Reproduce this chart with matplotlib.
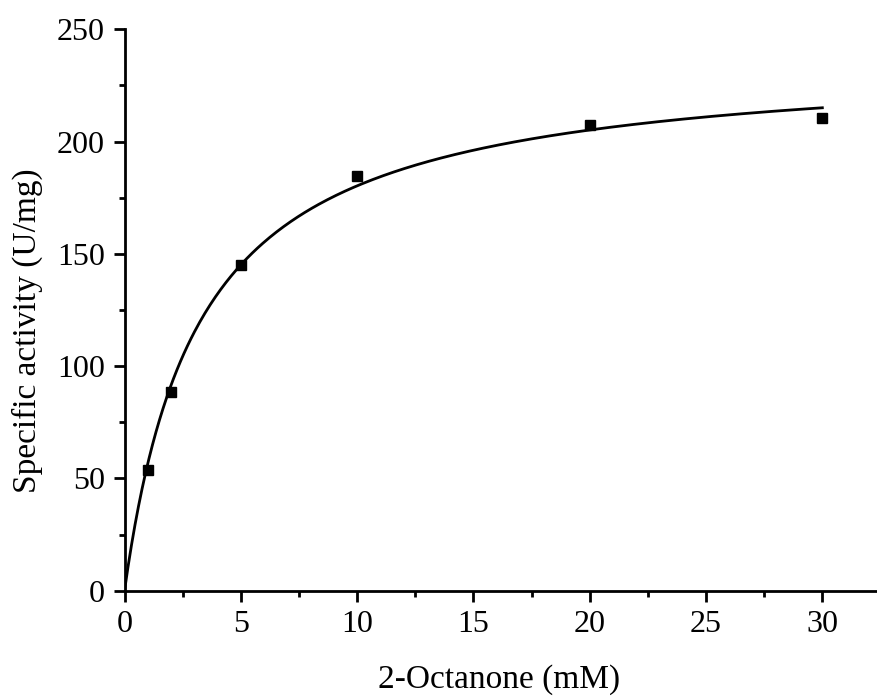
import numpy as np
import matplotlib
matplotlib.use("Agg")
import matplotlib.pyplot as plt
from matplotlib.ticker import MultipleLocator

# Data
substrate_mM = [1, 2, 5, 10, 20, 30]
activity_U_mg = [53.8, 88.5, 145.1, 184.7, 207.5, 210.6]
# Michaelis-Menten fit parameters
vmax = 238.0
km = 3.2

x_ticks = [0, 5, 10, 15, 20, 25, 30]
y_ticks = [0, 50, 100, 150, 200, 250]

plt.rcParams['font.family'] = ['Liberation Serif', 'DejaVu Serif']

fig = plt.figure(figsize=(8.77, 6.98), dpi=100)
ax = fig.add_axes([0.142, 0.1537, 0.858, 0.8043])

xs = np.linspace(0, max(substrate_mM), 400)
ax.plot(xs, vmax * xs / (km + xs), color='black', lw=2.0, zorder=2)
ax.plot(substrate_mM, activity_U_mg, 's', color='black', ms=7, zorder=3)

ax.set_xlim(0, 32.35)
ax.set_ylim(0, 250)
ax.set_xticks(x_ticks)
ax.set_yticks(y_ticks)
ax.xaxis.set_minor_locator(MultipleLocator(2.5))
ax.yaxis.set_minor_locator(MultipleLocator(25))

for s in ['top', 'right']:
    ax.spines[s].set_visible(False)
for s in ['left', 'bottom']:
    ax.spines[s].set_linewidth(2.0)
ax.tick_params(which='major', direction='out', length=8, width=2.0, labelsize=23, pad=6)
ax.tick_params(which='minor', direction='out', length=4, width=2.0)

ax.set_xlabel('2-Octanone (mM)', fontsize=24)
ax.set_ylabel('Specific activity (U/mg)', fontsize=24)
ax.xaxis.set_label_coords(0.498, -0.131)
ax.yaxis.set_label_coords(-0.108, 0.4635)

fig.savefig('out.png', dpi=100)
